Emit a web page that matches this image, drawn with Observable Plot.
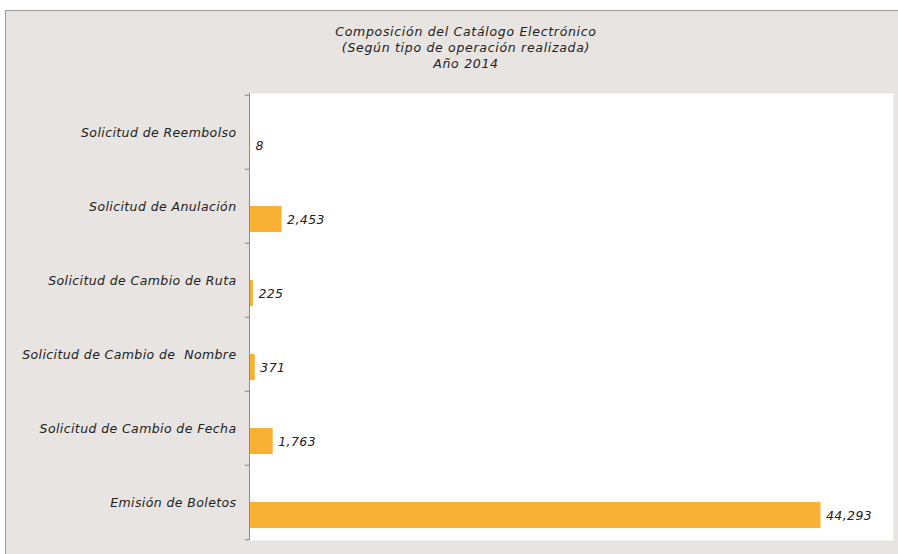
<!DOCTYPE html>
<html>
<head>
<meta charset="utf-8">
<script src="https://cdn.jsdelivr.net/npm/d3@7"></script>
<script src="https://cdn.jsdelivr.net/npm/@observablehq/plot@0.6"></script>
<style>
  html, body { margin: 0; padding: 0; background: #ffffff; width: 898px; height: 554px; overflow: hidden; }
  #bg { position: absolute; left: 5px; top: 10px; width: 893px; height: 544px; background: #e8e4e1;
        border-top: 1px solid #9a9a9a; border-left: 1px solid #9a9a9a; box-sizing: border-box; }
  #title { position: absolute; left: 266px; width: 400px; top: 24px; text-align: center;
           font-family: "DejaVu Sans", sans-serif; font-style: italic; font-size: 12.5px; letter-spacing: 0.7px;
           line-height: 16px; color: #222; }
  #chart { position: absolute; left: 0; top: 0; }
</style>
</head>
<body>
<div id="bg"></div>
<div id="title">Composición del Catálogo Electrónico<br>(Según tipo de operación realizada)<br>Año 2014</div>
<div id="chart"></div>
<script>
const categories = [
  "Solicitud de Reembolso",
  "Solicitud de Anulación",
  "Solicitud de Cambio de Ruta",
  "Solicitud de Cambio de  Nombre",
  "Solicitud de Cambio de Fecha",
  "Emisión de Boletos"
];
const values = [8, 2453, 225, 371, 1763, 44293];
const xDomain = [0, 50000];

const data = categories.map((c, i) => ({cat: c, value: values[i]}));
const fmt = d3.format(",");
const font = "DejaVu Sans, sans-serif";

const chart = Plot.plot({
  width: 898,
  height: 554,
  marginLeft: 249,
  marginRight: 5,
  marginTop: 93,
  marginBottom: 14,
  style: {background: "transparent", fontFamily: font, fontSize: "12.5px", fontStyle: "italic", color: "#222", letterSpacing: "0.4px"},
  x: {domain: xDomain, axis: null},
  y: {domain: categories, padding: 0, label: null, tickSize: 0, tickPadding: 13},
  marks: [
    Plot.frame({fill: "white", stroke: "none"}),
    Plot.barX(data, {x: "value", y: "cat", fill: "#f8b133", insetTop: 37, insetBottom: 11, insetRight: -1}),
    Plot.ruleX([0], {stroke: "#8a8a8a"}),
    Plot.ruleY(categories, {y: d => d, x1: -320, x2: 0, dy: -37.25, stroke: "#8a8a8a"}),
    Plot.ruleY([categories[categories.length - 1]], {y: d => d, x1: -320, x2: 0, dy: 37.25, stroke: "#8a8a8a"}),
    Plot.text(data, {x: "value", y: "cat", text: d => fmt(d.value), textAnchor: "start", dx: 6, dy: 13, fill: "#222", fontSize: 12.5, letterSpacing: "0.2px"})
  ]
});
document.getElementById("chart").appendChild(chart);
</script>
</body>
</html>
